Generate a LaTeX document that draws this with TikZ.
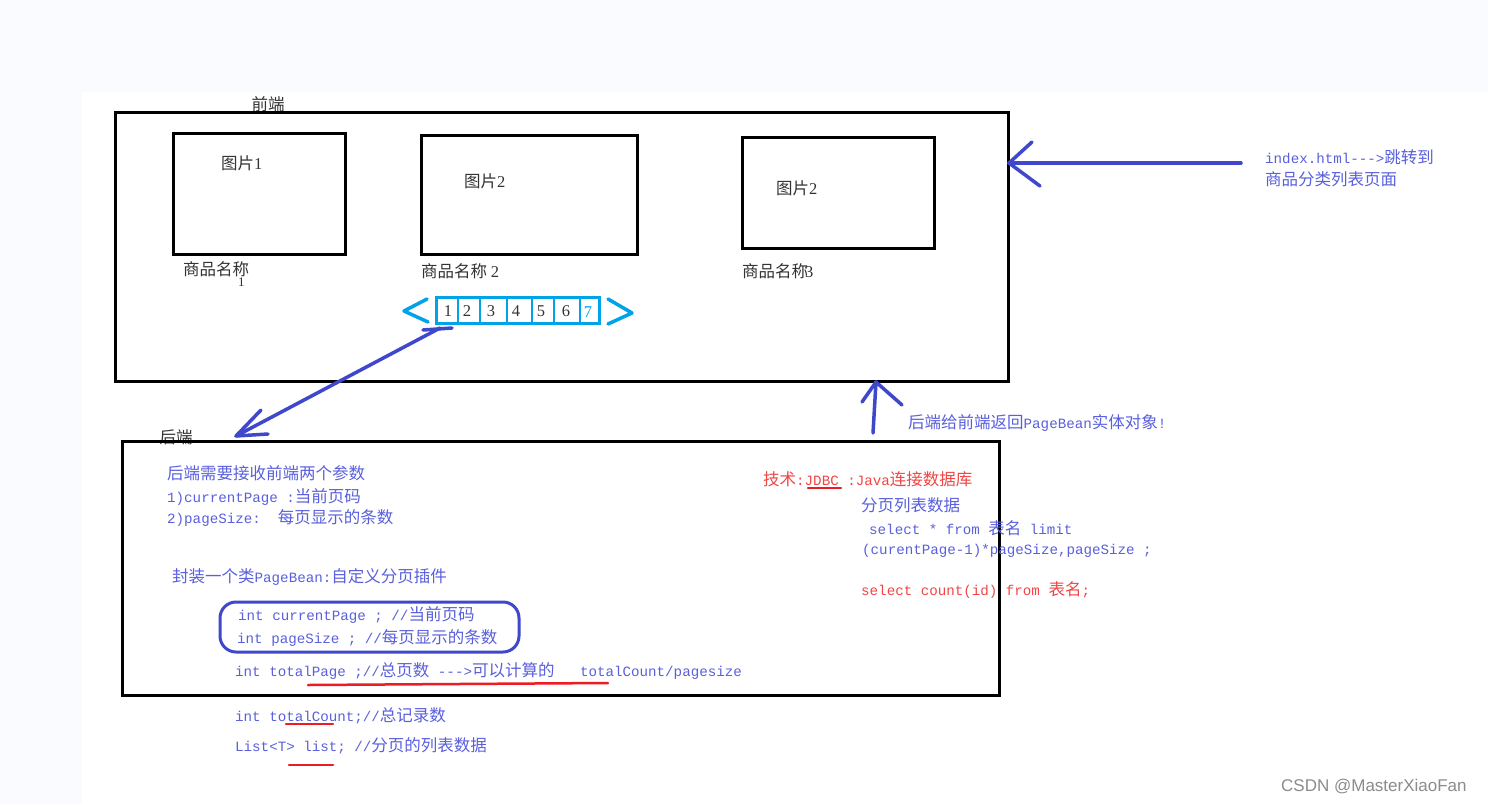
\documentclass[tikz,border=0pt]{standalone}
\usepackage{fontspec}
\setmainfont{Noto Sans CJK SC}
\newfontfamily\mo{Liberation Mono}[Scale=0.86]
\newfontfamily\sr{Liberation Serif}
\newfontfamily\wm{Liberation Sans}
\definecolor{pblue}{HTML}{3F48CC}
\definecolor{tblue}{HTML}{5A60DC}
\definecolor{tred}{HTML}{F04646}
\definecolor{pred}{HTML}{ED1C24}
\definecolor{pcyan}{HTML}{00A2E8}
\definecolor{tdark}{HTML}{333333}
\definecolor{bgc}{HTML}{FAFBFE}
\definecolor{wmgray}{HTML}{8C8C8C}
\tikzset{
  txt/.style={inner sep=0pt, anchor=west, font=\fontsize{16.5}{18}\selectfont},
  bt/.style={txt, text=tblue},
  rt/.style={txt, text=tred},
  kt/.style={txt, text=tdark},
  frame/.style={draw=black, line width=3pt},
  parrow/.style={draw=pblue, line width=3.5pt, line cap=round, line join=round},
  cy/.style={draw=pcyan, line width=3pt},
  ul/.style={draw=pred, line width=2.5pt, line cap=round},
  dig/.style={inner sep=0pt, text=tdark, font=\sr\fontsize{16.5}{18}\selectfont}
}
\begin{document}
\begin{tikzpicture}[x=1pt,y=-1pt]
\fill[bgc] (0,0) rectangle (1488,804);
\fill[white] (82,92) rectangle (1488,804);
\useasboundingbox (0,0) rectangle (1488,804);

% front end
\node[kt, anchor=center] (fe) at (268,104) {前端};
\draw[frame] (115,112) rectangle (1008,381);
\draw[frame] (173,133) rectangle (345,254);
\draw[frame] (421,135) rectangle (637,254);
\draw[frame] (742,137) rectangle (934,248);
\node[kt] (p1) at (221,163) {图片{\sr 1}};
\node[kt] (p2) at (464,181) {图片{\sr 2}};
\node[kt] (p3) at (776,188) {图片{\sr 2}};
\node[kt] (n1) at (183,269) {商品名称};
\node[kt, font=\sr\fontsize{13}{13}\selectfont] (n1b) at (238,282) {1};
\node[kt] (n2) at (421,271) {商品名称 {\sr 2}};
\node[kt] (n3) at (742,271) {商品名称\kern-3pt{\sr 3}};

% pagination
\draw[cy] (436,297) rectangle (599,323);
\foreach \x in {458,480,507,532,554,580} \draw[cy, line width=2.5pt] (\x,297) -- (\x,323);
\node[dig] (d1) at (448,311) {1};
\node[dig] (d2) at (467,311) {2};
\node[dig] (d3) at (491,311) {3};
\node[dig] (d4) at (516,311) {4};
\node[dig] (d5) at (541,311) {5};
\node[dig] (d6) at (566,311) {6};
\node[dig, text=pcyan] (d7) at (588,312) {7};
\draw[cy, line width=3.5pt, line cap=round, line join=round] (427,299) -- (404,311) -- (428,322);
\draw[cy, line width=3.5pt, line cap=round, line join=round] (608,299) -- (632,313) -- (608,324);

% arrows
\coordinate (r1) at (1241,163);
\coordinate (r2) at (1009,163);
\draw[parrow] (r1) -- (r2);
\draw[parrow] (1032,142) -- (r2) -- (1040,186);

\coordinate (u1) at (873,433);
\coordinate (u2) at (876,382);
\draw[parrow] (u1) -- (u2);
\draw[parrow] (862,402) -- (u2) -- (902,405);

\coordinate (g1) at (440,328);
\coordinate (g2) at (236,436);
\draw[parrow] (g1) -- (g2);
\draw[parrow] (261,410) -- (g2) -- (268,434);
\draw[parrow] (423,330) -- (452,328);

% right texts
\node[bt] (t1) at (1265,157) {{\mo index.html-{}-{}->}跳转到};
\node[bt] (t2) at (1265,179) {商品分类列表页面};
\node[bt] (t3) at (908,423) {后端给前端返回{\mo PageBean}实体对象{\mo !}};

% back end
\node[kt, anchor=center] (be) at (176,437) {后端};
\draw[frame] (122,441) rectangle (999,695);

\node[rt] (t4) at (763,479) {技术{\mo :JDBC :Java}连接数据库};
\node[bt] (t5) at (861,505) {分页列表数据};
\node[bt] (t6) at (869,528) {{\mo select * from }表名{\mo\ limit}};
\node[bt] (t7) at (862,551) {{\mo (curentPage-1)*pageSize,pageSize ;}};
\node[rt] (t8) at (861,590) {{\mo select count(id) from }表名{\mo ;}};

\node[bt] (b1) at (167,473) {后端需要接收前端两个参数};
\node[bt] (b2) at (167,497) {{\mo 1)currentPage :}当前页码};
\node[bt] (b3) at (167,518) {{\mo 2)pageSize:\ \ }每页显示的条数};
\node[bt] (b4) at (172,577) {封装一个类{\mo PageBean:}自定义分页插件};
\draw[pblue, line width=3pt, rounded corners=16pt] (220,602) rectangle (519,652);
\node[bt] (b5) at (238,615) {{\mo int currentPage ; //}当前页码};
\node[bt] (b6) at (237,638) {{\mo int pageSize ; //}每页显示的条数};
\node[bt] (b7) at (235,671) {{\mo int totalPage ;//}总页数{\mo\ -{}-{}->}可以计算的{\mo\ \ \ totalCount/pagesize}};
\node[bt] (b8) at (235,716) {{\mo int totalCount;//}总记录数};
\node[bt] (b9) at (235,746) {{\mo List<T> list; //}分页的列表数据};

% underlines
\draw[ul] (808,488) -- (841,488);
\draw[ul] (308,685) -- (608,683);
\draw[ul] (286,724) -- (333,724);
\draw[ul] (289,765) -- (333,765);

\node[inner sep=0pt, anchor=west, text=wmgray, font=\wm\fontsize{17}{18}\selectfont] (wm) at (1281,787) {CSDN @MasterXiaoFan};
\end{tikzpicture}
\end{document}
